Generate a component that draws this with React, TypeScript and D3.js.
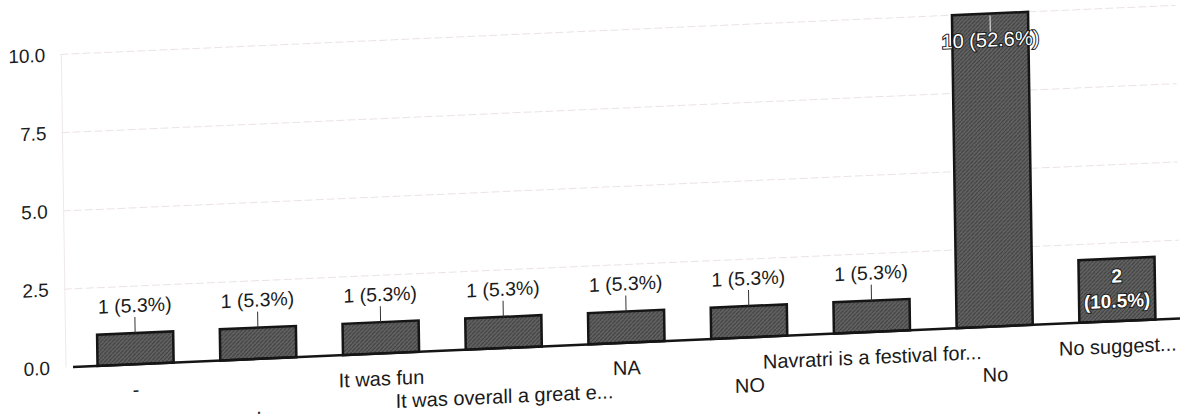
import React from "react";
import * as d3 from "d3";

const categories = [
  "-",
  ".",
  "It was fun",
  "It was overall a great e...",
  "NA",
  "NO",
  "Navratri is a festival for...",
  "No",
  "No suggest...",
];
const counts = [1, 1, 1, 1, 1, 1, 1, 10, 2];
const yTicks = [0, 2.5, 5, 7.5, 10];

const width = 1187;
const height = 418;
const font = "'Liberation Sans', Arial, sans-serif";

export default function App() {
  const total = d3.sum(counts);
  const x = d3
    .scaleBand()
    .domain(categories)
    .range([73, 1180])
    .paddingInner(0.38)
    .paddingOuter(0.2);
  const y = d3.scaleLinear().domain([0, 10]).range([367, 54]);

  // the photo is tilted: baseline climbs to the right
  const skew = "translate(75,367) matrix(1,-0.044,0.015,1,0,0) translate(-75,-367)";

  return (
    <svg
      width={width}
      height={height}
      style={{ position: "absolute", left: 0, top: 0, background: "#fff" }}
    >
      <defs>
        <pattern id="hatch" width="4" height="4" patternUnits="userSpaceOnUse">
          <rect width="4" height="4" fill="#626262" />
          <path d="M0,4 L4,0" stroke="#3f3f3f" strokeWidth="1" />
        </pattern>
      </defs>
      <g transform={skew} fontFamily={font}>
        {/* grid */}
        {yTicks.slice(1).map((t) => (
          <line
            key={t}
            x1={65}
            x2={1180}
            y1={y(t)}
            y2={y(t)}
            stroke="#ebe3e3"
            strokeWidth={1}
            strokeDasharray="8 3"
          />
        ))}
        <line x1={66} x2={66} y1={y(10)} y2={y(0)} stroke="#efe9e9" />

        {/* y tick labels */}
        {yTicks.map((t) => (
          <text
            key={t}
            x={50}
            y={y(t)}
            dy="0.35em"
            textAnchor="end"
            fontSize={19}
            fill="#1c1c1c"
          >
            {t.toFixed(1)}
          </text>
        ))}

        {/* bars */}
        {categories.map((c, i) => {
          const v = counts[i];
          const bx = x(c) as number;
          const bw = x.bandwidth();
          const top = y(v);
          const h = y(0) - top;
          const cx = bx + bw / 2;
          const pct = `(${((v / total) * 100).toFixed(1)}%)`;
          return (
            <g key={c}>
              <rect
                x={bx}
                y={top}
                width={bw}
                height={h}
                fill="url(#hatch)"
                stroke="#151515"
                strokeWidth={2.5}
              />
              {h > 200 ? (
                <g>
                  <line x1={cx} x2={cx} y1={top + 2} y2={top + 18} stroke="#f4f4f4" />
                  <text
                    x={cx}
                    y={top + 33}
                    textAnchor="middle"
                    fontSize={20}
                    fill="#fff"
                    stroke="#1a1a1a"
                    strokeWidth={2}
                    paintOrder="stroke"
                  >
                    {`${v} ${pct}`}
                  </text>
                </g>
              ) : h > 50 ? (
                <text
                  textAnchor="middle"
                  fontSize={19}
                  fontWeight="bold"
                  fill="#fff"
                  stroke="#1a1a1a"
                  strokeWidth={2}
                  paintOrder="stroke"
                >
                  <tspan x={cx} y={top + 24}>{v}</tspan>
                  <tspan x={cx} y={top + 49}>{pct}</tspan>
                </text>
              ) : (
                <g>
                  <line x1={cx} x2={cx} y1={top - 16} y2={top} stroke="#333" />
                  <text x={cx} y={top - 21} textAnchor="middle" fontSize={19.5} fill="#1a1a1a">
                    {`${v} ${pct}`}
                  </text>
                </g>
              )}
            </g>
          );
        })}

        {/* baseline */}
        <line x1={73} x2={1180} y1={y(0)} y2={y(0)} stroke="#151515" strokeWidth={2.5} />

        {/* x labels, staggered in two rows */}
        {categories.map((c, i) => (
          <text
            key={c}
            x={(x(c) as number) + x.bandwidth() / 2}
            y={y(0) + (i % 2 === 0 ? 32 : 55)}
            textAnchor="middle"
            fontSize={20}
            fill="#1a1a1a"
          >
            {c}
          </text>
        ))}
      </g>
    </svg>
  );
}
